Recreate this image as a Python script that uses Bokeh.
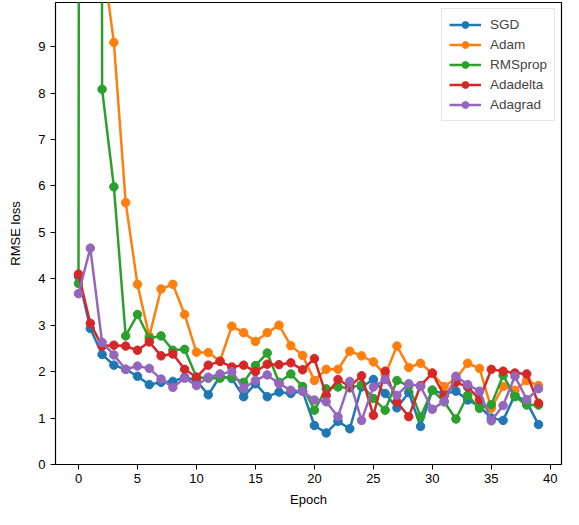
from bokeh.plotting import figure
from bokeh.models import Range1d, FixedTicker, Legend, LegendItem
from bokeh.embed import file_html
from bokeh.resources import INLINE

epochs = list(range(40))

sgd = [4.05, 2.93, 2.37, 2.14, 2.05, 1.9, 1.72, 1.77, 1.79, 1.88,
       1.81, 1.5, 1.9, 1.85, 1.46, 1.74, 1.46, 1.56, 1.53, 1.58,
       0.84, 0.68, 0.93, 0.77, 1.67, 1.83, 1.53, 1.22, 1.55, 0.82,
       1.6, 1.52, 1.58, 1.39, 1.25, 1.0, 0.95, 1.5, 1.35, 0.86]
adam = [40.0, 25.0, 11.0, 9.09, 5.64, 3.88, 2.76, 3.78, 3.88, 3.23,
        2.42, 2.41, 2.23, 2.98, 2.84, 2.65, 2.84, 3.0, 2.56, 2.35,
        1.81, 2.05, 2.05, 2.44, 2.34, 2.21, 1.93, 2.55, 2.09, 2.18,
        1.96, 1.68, 1.85, 2.18, 2.07, 1.21, 1.68, 1.6, 1.81, 1.7]
rmsprop = [3.9, 250.0, 8.08, 5.98, 2.77, 3.23, 2.72, 2.77, 2.46, 2.48,
           1.88, 1.86, 1.86, 1.88, 1.77, 2.13, 2.4, 1.77, 1.95, 1.68,
           1.17, 1.63, 1.67, 1.65, 1.72, 1.42, 1.17, 1.81, 1.69, 1.03,
           1.6, 1.35, 0.98, 1.49, 1.21, 1.29, 1.92, 1.46, 1.28, 1.28]
adadelta = [4.1, 3.04, 2.55, 2.57, 2.55, 2.46, 2.64, 2.34, 2.38, 2.05,
            1.88, 2.14, 2.22, 2.1, 2.14, 2.0, 2.16, 2.15, 2.19, 2.04,
            2.28, 1.49, 1.83, 1.68, 1.91, 1.06, 2.01, 1.35, 1.03, 1.7,
            1.97, 1.48, 1.77, 1.67, 1.4, 2.05, 2.01, 1.97, 1.95, 1.32]
adagrad = [3.68, 4.66, 2.63, 2.36, 2.05, 2.12, 2.07, 1.84, 1.66, 1.86,
           1.7, 1.88, 1.95, 2.0, 1.64, 1.81, 1.93, 1.74, 1.6, 1.58,
           1.39, 1.35, 1.03, 1.79, 0.95, 1.67, 1.83, 1.49, 1.74, 1.68,
           1.19, 1.36, 1.9, 1.72, 1.58, 0.94, 1.27, 1.9, 1.4, 1.63]

names = ["SGD", "Adam", "RMSprop", "Adadelta", "Adagrad"]
series = [sgd, adam, rmsprop, adadelta, adagrad]
colors = ["#1f77b4", "#ff7f0e", "#2ca02c", "#d62728", "#9467bd"]
x_ticks = [0, 5, 10, 15, 20, 25, 30, 35, 40]
y_ticks = [0, 1, 2, 3, 4, 5, 6, 7, 8, 9]

FONT = "Liberation Sans"

p = figure(width=563, height=509, output_backend="svg", toolbar_location=None,
           x_range=Range1d(-1.95, 40.95), y_range=Range1d(0, 9.95),
           min_border_left=55, min_border_right=2, min_border_top=2,
           min_border_bottom=44)
p.grid.visible = False
p.outline_line_color = "black"
p.outline_line_width = 1.2
p.background_fill_color = "white"
p.border_fill_color = "white"

items = []
for name, ys, c in zip(names, series, colors):
    r1 = p.line(epochs, ys, line_color=c, line_width=2.5)
    r2 = p.scatter(epochs, ys, size=8.5, fill_color=c, line_color=c)
    items.append(LegendItem(label=name, renderers=[r1, r2]))

legend = Legend(items=items, location="top_right")
legend.label_text_font = FONT
legend.label_text_font_size = "13.5px"
legend.border_line_color = "#cccccc"
legend.border_line_width = 1
legend.background_fill_alpha = 0.8
legend.glyph_width = 32
legend.glyph_height = 17
legend.label_height = 17
legend.spacing = 3
legend.padding = 7
legend.margin = 6
legend.label_standoff = 9
p.add_layout(legend)

for ax in (p.xaxis[0], p.yaxis[0]):
    ax.major_label_text_font = FONT
    ax.major_label_text_font_size = "13px"
    ax.axis_label_text_font = FONT
    ax.axis_label_text_font_size = "13px"
    ax.axis_label_text_font_style = "normal"
    ax.major_tick_out = 5
    ax.major_tick_in = 0
    ax.minor_tick_out = 0
    ax.minor_tick_in = 0
    ax.axis_line_color = "black"
    ax.major_tick_line_color = "black"
    ax.major_label_text_color = "black"
    ax.axis_label_text_color = "black"

p.xaxis[0].ticker = FixedTicker(ticks=x_ticks)
p.yaxis[0].ticker = FixedTicker(ticks=y_ticks)
p.xaxis[0].axis_label = "Epoch"
p.yaxis[0].axis_label = "RMSE loss"
p.xaxis[0].axis_label_standoff = 6
p.yaxis[0].axis_label_standoff = 12
p.xaxis[0].major_label_standoff = 4
p.yaxis[0].major_label_standoff = 5

open("out.html", "w").write(file_html(p, INLINE))
